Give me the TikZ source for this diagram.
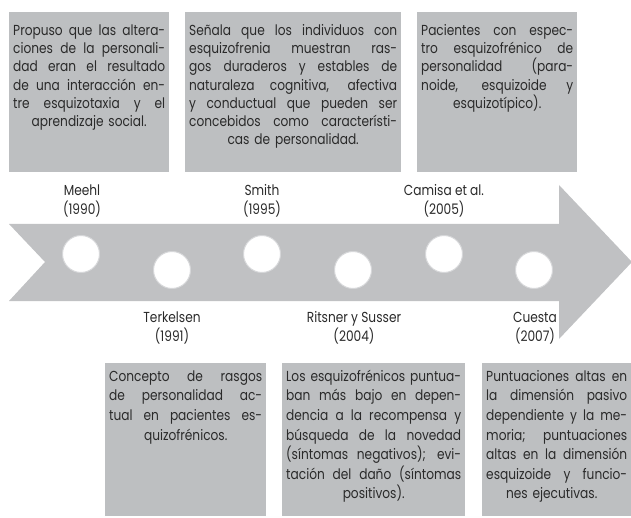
\documentclass[tikz,border=0pt]{standalone}
\usepackage{fontspec}
\setmainfont{Poppins}[FakeStretch=0.84]

\definecolor{cajagris}{HTML}{BDBFC1}
\definecolor{flechagris}{HTML}{C0C1C3}
\definecolor{bordegris}{HTML}{D6D7D9}
\definecolor{texto}{HTML}{2A2A2A}

\newcommand{\fila}[1]{\hbox to \hsize{\spaceskip=0.25em plus 10em minus 0.12em\relax #1}}
\newcommand{\ultima}[1]{\hbox to \hsize{\hfil #1\hfil}}

\begin{document}
\begin{tikzpicture}[x=1pt, y=-1pt,
    caja/.style={fill=cajagris, anchor=north west, inner xsep=4pt, inner ysep=0pt,
      text width=#1, text=texto, font=\fontsize{14.5}{18}\selectfont},
    hito/.style={circle, fill=white, draw=bordegris, line width=1pt, minimum size=37pt, inner sep=0pt},
    autor/.style={align=center, text=texto, font=\fontsize{14.5}{18.5}\selectfont}]

    \useasboundingbox (0,0) rectangle (631,518);

    % flecha
    \fill[flechagris] (9,224) -- (559,224) -- (559,185) -- (632,262) -- (559,339)
        -- (559,301) -- (9,301) -- (45,262) -- cycle;

    \foreach \i/\x/\y in {1/81/254, 2/172/270, 3/262/254, 4/353/270, 5/444/254, 6/534/270}
        \node[hito] (h\i) at (\x,\y) {};

    \foreach \i/\x/\y/\nom/\anio in {1/82/201/Meehl/1990, 3/262/201/Smith/1995, 5/444/201/Camisa et al./2005,
        2/172/328/Terkelsen/1991, 4/354/328/Ritsner y Susser/2004, 6/535/328/Cuesta/2007}
        \node[autor] (a\i) at (\x,\y) {\nom\\(\anio)};

    % cajas de arriba
    \node[caja=152pt] (t1) at (9,12) {\vbox to 160pt{\vskip 4.7pt\prevdepth=0pt\baselineskip=18.3pt
        \fila{Propuso que las altera-}
        \fila{ciones de la personali-}
        \fila{dad eran el resultado}
        \fila{de una interacción en-}
        \fila{tre esquizotaxia y el}
        \ultima{aprendizaje social.}
        \vfil}};
    \node[caja=208pt] (t2) at (185,12) {\vbox to 160pt{\vskip 4.7pt\prevdepth=0pt\baselineskip=18.3pt
        \fila{Señala que los individuos con}
        \fila{esquizofrenia muestran ras-}
        \fila{gos duraderos y estables de}
        \fila{naturaleza cognitiva, afectiva}
        \fila{y conductual que pueden ser}
        \fila{concebidos como característi-}
        \ultima{cas de personalidad.}
        \vfil}};
    \node[caja=152pt] (t3) at (417,12) {\vbox to 160pt{\vskip 4.7pt\prevdepth=0pt\baselineskip=18.3pt
        \fila{Pacientes con espec-}
        \fila{tro esquizofrénico de}
        \fila{personalidad (para-}
        \fila{noide, esquizoide y}
        \ultima{esquizotípico).}
        \vfil}};

    % cajas de abajo
    \node[caja=153pt] (b1) at (105,363) {\vbox to 153pt{\vskip -1.6pt\prevdepth=0pt\baselineskip=19.6pt
        \fila{Concepto de rasgos}
        \fila{de personalidad ac-}
        \fila{tual en pacientes es-}
        \ultima{quizofrénicos.}
        \vfil}};
    \node[caja=175pt] (b2) at (282,363) {\vbox to 153pt{\vskip -1.6pt\prevdepth=0pt\baselineskip=19.6pt
        \fila{Los esquizofrénicos puntua-}
        \fila{ban más bajo en depen-}
        \fila{dencia a la recompensa y}
        \fila{búsqueda de la novedad}
        \fila{(síntomas negativos); evi-}
        \fila{tación del daño (síntomas}
        \ultima{positivos).}
        \vfil}};
    \node[caja=141pt] (b3) at (482,363) {\vbox to 153pt{\vskip -1.6pt\prevdepth=0pt\baselineskip=19.6pt
        \fila{Puntuaciones altas en}
        \fila{la dimensión pasivo}
        \fila{dependiente y la me-}
        \fila{moria; puntuaciones}
        \fila{altas en la dimensión}
        \fila{esquizoide y funcio-}
        \ultima{\hspace*{-10pt}nes ejecutivas.}
        \vfil}};

\end{tikzpicture}
\end{document}
